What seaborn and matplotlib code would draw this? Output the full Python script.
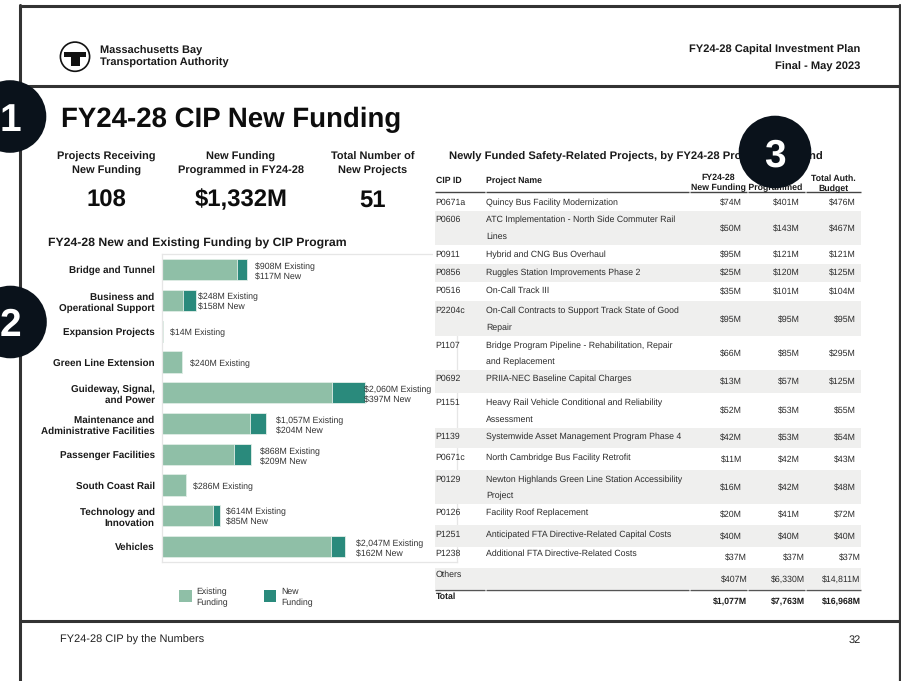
import matplotlib
matplotlib.use("Agg")
import matplotlib.pyplot as plt
from matplotlib.patches import Circle, Rectangle
import pandas as pd
import seaborn as sns

# ---------- data ----------
PROGRAMS = ["Bridge and Tunnel", "Business and\nOperational Support", "Expansion Projects",
            "Green Line Extension", "Guideway, Signal,\nand Power",
            "Maintenance and\nAdministrative Facilities", "Passenger Facilities",
            "South Coast Rail", "Technology and\nInnovation", "Vehicles"]
EXISTING = [908, 248, 14, 240, 2060, 1057, 868, 286, 614, 2047]
NEW = [117, 158, 0, 0, 397, 204, 209, 0, 85, 162]

CIP_IDS = ["P0671a", "P0606", "P0911", "P0856", "P0516", "P2204c", "P1107", "P0692", "P1151",
           "P1139", "P0671c", "P0129", "P0126", "P1251", "P1238", "Others"]
PROJECTS = ["Quincy Bus Facility Modernization",
            "ATC Implementation - North Side Commuter Rail\nLines",
            "Hybrid and CNG Bus Overhaul",
            "Ruggles Station Improvements Phase 2",
            "On-Call Track III",
            "On-Call Contracts to Support Track State of Good\nRepair",
            "Bridge Program Pipeline - Rehabilitation, Repair\nand Replacement",
            "PRIIA-NEC Baseline Capital Charges",
            "Heavy Rail Vehicle Conditional and Reliability\nAssessment",
            "Systemwide Asset Management Program Phase 4",
            "North Cambridge Bus Facility Retrofit",
            "Newton Highlands Green Line Station Accessibility\nProject",
            "Facility Roof Replacement",
            "Anticipated FTA Directive-Related Capital Costs",
            "Additional FTA Directive-Related Costs",
            ""]
NEW_FUNDING = [74, 50, 95, 25, 35, 95, 66, 13, 52, 42, 11, 16, 20, 40, 37, 407]
PROGRAMMED = [401, 143, 121, 120, 101, 95, 85, 57, 53, 53, 42, 42, 41, 40, 37, 6330]
AUTH_BUDGET = [476, 467, 121, 125, 104, 95, 295, 125, 55, 54, 43, 48, 72, 40, 37, 14811]
TOTALS = [1077, 7763, 16968]

KPI_LABELS = ["Projects Receiving\nNew Funding", "New Funding\nProgrammed in FY24-28",
              "Total Number of\nNew Projects"]
KPI_VALUES = ["108", "$1,332M", "51"]

# ---------- layout (pixels in the 901x681 page) ----------
W, H = 901, 681
FONT = "Liberation Sans"
INK = "#1a1a1a"
DARK = "#0a121b"
FRAME = "#333333"
C_EXIST = "#8fbfa7"
C_NEW = "#2a8a7c"
ROW_GREY = "#efefee"

TEXT_Y = [201.5, 219, 254, 272, 290, 310, 344.5, 378, 401.5, 436, 456.5, 478.5, 512, 534, 552.5, 574]
VALUE_Y = [202, 228, 254.5, 272.5, 291, 319, 353, 381.5, 410, 437.5, 459, 487, 514.5, 536, 557.5, 579]
GREY_BANDS = [(211, 245), (264, 281.5), (301, 335.5), (369.5, 393), (427.5, 448),
              (470, 503.5), (525, 546.5), (568, 589)]
VALUE_LABEL_X = [255, 198.5, 170, 189.5, 364.5, 275.5, 259.5, 193, 226, 355.5]
VALUE_LABEL_Y = [271, 301, 331.5, 363, 393.3, 424.5, 455.5, 486, 516, 547.5]

sns.set_theme(style="white")
plt.rcParams["font.family"] = [FONT, "DejaVu Sans"]
plt.rcParams["text.hinting"] = "none"

fig = plt.figure(figsize=(9.01, 6.81), dpi=100, facecolor="white")

# ---------- bar chart ----------
AX_L, AX_T, AX_R, AX_B = 162.3, 254.3, 457, 562
PX_PER_UNIT = 0.0825
ax = fig.add_axes([AX_L / W, 1 - AX_B / H, (AX_R - AX_L) / W, (AX_B - AX_T) / H])
df = pd.DataFrame({"program": PROGRAMS, "existing": EXISTING, "new": NEW})
df["total"] = df["existing"] + df["new"]
sns.barplot(data=df, y="program", x="total", color=C_NEW, saturation=1, width=0.69,
            edgecolor="#e4efe9", linewidth=0.6, ax=ax)
sns.barplot(data=df, y="program", x="existing", color=C_EXIST, saturation=1, width=0.69,
            edgecolor="#e4efe9", linewidth=0.6, ax=ax)
ax.set_xlim(0, (AX_R - AX_L) / PX_PER_UNIT)
ax.set_ylim(9.5, -0.5)
ax.set_xlabel("")
ax.set_ylabel("")
ax.set_xticks([])
ax.tick_params(axis="y", length=0, pad=5.5)
for lab in ax.get_yticklabels():
    lab.set_fontsize(7.15)
    lab.set_fontweight("bold")
    lab.set_color(INK)
    lab.set_multialignment("right")
    lab.set_linespacing(1.25)
for s in ax.spines.values():
    s.set_color("#e6e6e6")
    s.set_linewidth(0.9)
    s.set_visible(True)
ax.spines["top"].set_bounds(0, (432 - AX_L) / PX_PER_UNIT)

# ---------- overlay in page pixels ----------
ov = fig.add_axes([0, 0, 1, 1], zorder=5)
ov.set_xlim(0, W)
ov.set_ylim(H, 0)
ov.axis("off")
ov.patch.set_alpha(0)


def txt(x, y, s, size=6.3, bold=False, ha="left", color=INK, **kw):
    ov.text(x, y, s, fontsize=size, fontweight="bold" if bold else "normal", ha=ha,
            va="center_baseline", color=color, **kw)


def hline(x0, x1, y, lw=2.2, color=FRAME):
    ov.plot([x0, x1], [y, y], color=color, lw=lw, solid_capstyle="butt")


# value labels next to the bars
for i, (e, n) in enumerate(zip(EXISTING, NEW)):
    x, y = VALUE_LABEL_X[i], VALUE_LABEL_Y[i]
    if n:
        txt(x, y - 5, f"${e:,}M Existing", 6.35, color="#333333")
        txt(x, y + 5.5, f"${n:,}M New", 6.35, color="#333333")
    else:
        txt(x, y, f"${e:,}M Existing", 6.35, color="#333333")

# page frame
hline(19, 900.5, 6.3)
hline(20, 899.5, 86)
hline(20, 899.5, 621)
ov.plot([20.3, 20.3], [5, H], color=FRAME, lw=2.2)
ov.plot([899.5, 899.5], [5, H], color=FRAME, lw=1.6)

# logo
ov.add_patch(Circle((75, 56.7), 14.6, fc="white", ec="#111111", lw=1.2))
ov.add_patch(Rectangle((64, 52), 22, 5, fc="#111111", ec="none"))
ov.add_patch(Rectangle((71, 52), 9, 14, fc="#111111", ec="none"))
txt(99.5, 50, "Massachusetts Bay", 7.9, True)
txt(99.5, 62, "Transportation Authority", 7.9, True)
txt(860.7, 49, "FY24-28 Capital Investment Plan", 8, True, ha="right")
txt(860.7, 66, "Final - May 2023", 8, True, ha="right")

# title and KPIs
txt(60.8, 117, "FY24-28 CIP New Funding", 19.9, True, color="#0d0d0d")
for cx, label, value in zip([106.5, 241, 373], KPI_LABELS, KPI_VALUES):
    a, b = label.split("\n")
    txt(cx, 156, a, 7.9, True, ha="center")
    txt(cx, 170, b, 7.9, True, ha="center")
    txt(cx, 198, value, 17.2, True, ha="center", color="#0d0d0d")

txt(48.5, 242, "FY24-28 New and Existing Funding by CIP Program", 8.8, True)

# legend
ov.add_patch(Rectangle((179, 590.3), 12.7, 11.4, fc=C_EXIST, ec="none"))
ov.add_patch(Rectangle((264.3, 590.3), 11.7, 11.4, fc=C_NEW, ec="none"))
for x, a in zip([196.5, 281.7], ["Existing", "New"]):
    txt(x, 591, a, 6.3, color="#333333")
    txt(x, 601.7, "Funding", 6.3, color="#333333")

# footer
txt(60.5, 639, "FY24-28 CIP by the Numbers", 7.9, color="#222222")
txt(860.7, 639, "32", 7.9, ha="right", color="#222222")

# table
txt(449, 156, "Newly Funded Safety-Related Projects, by FY24-28 Programmed Fund", 8.1, True)
txt(435.7, 179.7, "CIP ID", 6.35, True)
txt(486, 179.7, "Project Name", 6.35, True)
txt(718.3, 177, "FY24-28", 6.35, True, ha="center")
txt(747, 187, "New Funding Programmed", 6.35, True, ha="center")
txt(833, 177.5, "Total Auth.", 6.35, True, ha="center")
txt(833, 187.5, "Budget", 6.35, True, ha="center")

# white cover for the chart's corner behind the upper table, then grey bands
ov.add_patch(Rectangle((433, 194), 28, 141, fc="white", ec="none", zorder=0.5))
for top, bot in GREY_BANDS:
    ov.add_patch(Rectangle((435, top), 425.7, bot - top, fc=ROW_GREY, ec="none", zorder=0.6))

COL_SEGS = [(435, 484.5), (485.5, 689), (690, 746.5), (747.5, 805), (806, 861)]
for x0, x1 in COL_SEGS:
    hline(x0, x1, 192.3, lw=1.0, color="#444444")
    hline(x0, x1, 590, lw=1.0, color="#555555")

for i, cip in enumerate(CIP_IDS):
    txt(435.7, TEXT_Y[i], cip, color="#2b2b2b")
    for j, line in enumerate(PROJECTS[i].split("\n")):
        txt(486, TEXT_Y[i] + j * 16.7, line, color="#2b2b2b")
    shift = 5 if i >= 14 else 0
    for xr, col in zip([742.3, 800, 855.7], [NEW_FUNDING, PROGRAMMED, AUTH_BUDGET]):
        txt(xr + shift, VALUE_Y[i], f"${col[i]:,}M", ha="right", color="#2b2b2b")

txt(435.7, 595.7, "Total", 6.3, True)
for xr, v in zip([747, 805, 860.7], TOTALS):
    txt(xr, 601, f"${v:,}M", 6.3, True, ha="right")

# numbered markers
for (cx, cy), digit in zip([(10, 116.5), (10.5, 322), (775, 152)], ["1", "2", "3"]):
    ov.add_patch(Circle((cx, cy), 36.3, fc=DARK, ec="none", zorder=8))
    ov.text(cx, cy, digit, color="white", fontsize=28, fontweight="bold", ha="center",
            va="center_baseline", zorder=9)

fig.savefig("out.png", dpi=100)
